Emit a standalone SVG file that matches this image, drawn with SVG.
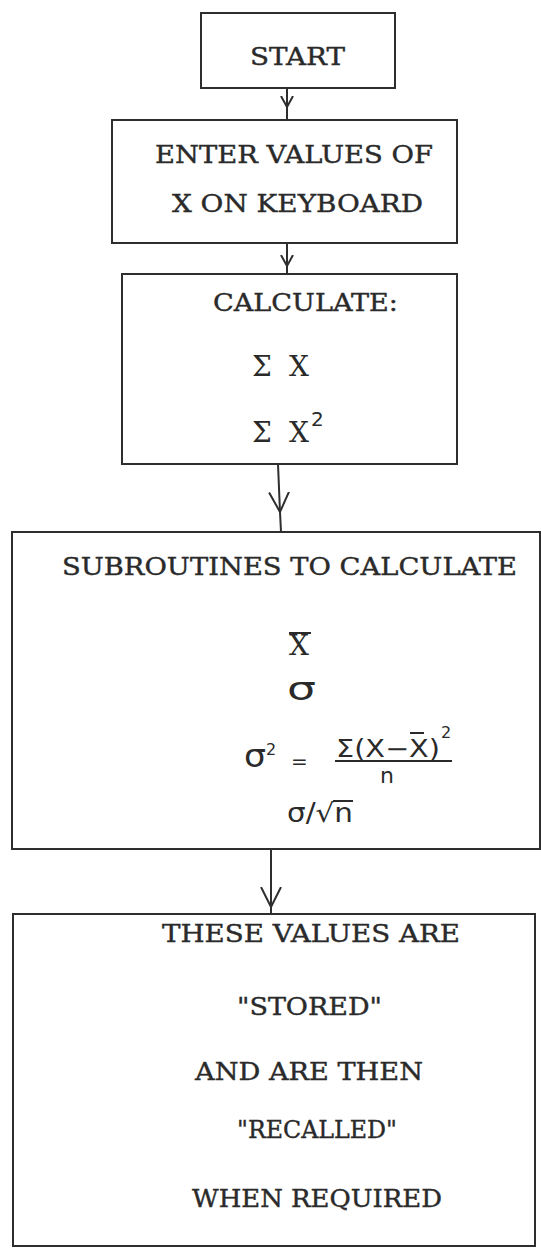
<svg xmlns="http://www.w3.org/2000/svg" width="541" height="1251" viewBox="0 0 541 1251">
<style>
.box{fill:none;stroke:#2e2e2e;stroke-width:2}
.conn{fill:none;stroke:#2e2e2e;stroke-width:2}
.t{font-family:"DejaVu Serif","Liberation Serif",serif;font-size:25px;fill:#2a2a2a;stroke:#2a2a2a;stroke-width:0.4}
.m{font-family:"DejaVu Serif","Liberation Serif",serif;font-size:28px;fill:#2a2a2a}
.h{font-family:"DejaVu Sans","Liberation Sans",sans-serif;fill:#2a2a2a}
.bar{stroke:#2a2a2a;stroke-width:2;fill:none}
</style>
<defs>
<marker id="vs" viewBox="0 0 12 14" refX="11" refY="7" markerWidth="12" markerHeight="14" markerUnits="userSpaceOnUse" orient="auto">
<path d="M0,1 L11,7 L0,13" fill="none" stroke="#2e2e2e" stroke-width="2"/>
</marker>
<marker id="vl" viewBox="0 0 22 22" refX="20" refY="11" markerWidth="22" markerHeight="22" markerUnits="userSpaceOnUse" orient="auto">
<path d="M0,1 L20,11 L0,21" fill="none" stroke="#2e2e2e" stroke-width="2"/>
</marker>
</defs>
<rect width="541" height="1251" fill="#ffffff"/>
<g id="connectors">
<path class="conn" d="M287,88 L287,107 L287,120" marker-mid="url(#vs)"/>
<path class="conn" d="M287,243 L287,266 L287,274" marker-mid="url(#vs)"/>
<path class="conn" d="M278,464 L280,512 L281,532" marker-mid="url(#vl)"/>
<path class="conn" d="M271,849 L271,907 L271,914" marker-mid="url(#vl)"/>
</g>
<g id="start">
<rect class="box" x="201" y="13" width="194" height="75"/>
<text class="t" x="250" y="65" textLength="95" lengthAdjust="spacingAndGlyphs">START</text>
</g>
<g id="enter">
<rect class="box" x="112" y="120" width="345" height="123"/>
<text class="t" x="155" y="163" textLength="278" lengthAdjust="spacingAndGlyphs">ENTER VALUES OF</text>
<text class="t" x="172" y="212" textLength="251" lengthAdjust="spacingAndGlyphs">X ON KEYBOARD</text>
</g>
<g id="calculate">
<rect class="box" x="122" y="274" width="335" height="190"/>
<text class="t" x="213" y="311" textLength="185" lengthAdjust="spacingAndGlyphs">CALCULATE:</text>
<text class="m" x="252" y="376">Σ</text>
<text class="m" x="289" y="376">X</text>
<text class="m" x="252" y="442">Σ</text>
<text class="m" x="289" y="442">X</text>
<text class="h" x="311" y="426" font-size="20">2</text>
</g>
<g id="subroutines">
<rect class="box" x="12" y="532" width="528" height="317"/>
<text class="t" x="62" y="575" textLength="455" lengthAdjust="spacingAndGlyphs">SUBROUTINES TO CALCULATE</text>
<text class="m" x="289" y="655">X</text>
<line class="bar" x1="289" y1="633" x2="311" y2="633"/>
<text class="h" x="287" y="700" font-size="32" textLength="29" lengthAdjust="spacingAndGlyphs">σ</text>
<text class="h" x="244" y="767" font-size="32" textLength="22" lengthAdjust="spacingAndGlyphs">σ</text>
<text class="h" x="266" y="755" font-size="16">2</text>
<text class="h" x="291" y="768" font-size="20">=</text>
<text class="h" x="336" y="757" font-size="24" textLength="104" lengthAdjust="spacingAndGlyphs">Σ(X−X)</text>
<line class="bar" x1="410" y1="733" x2="424" y2="733"/>
<text class="h" x="441" y="738" font-size="16">2</text>
<line class="bar" x1="335" y1="761" x2="452" y2="761"/>
<text class="h" x="380" y="783" font-size="22">n</text>
<text class="h" x="287" y="822" font-size="26" textLength="66" lengthAdjust="spacingAndGlyphs">σ/√n</text>
<line class="bar" x1="333" y1="801" x2="353" y2="801"/>
</g>
<g id="stored">
<rect class="box" x="13" y="914" width="522" height="332"/>
<text class="t" x="162" y="942" textLength="298" lengthAdjust="spacingAndGlyphs">THESE VALUES ARE</text>
<text class="t" x="237" y="1015" textLength="145" lengthAdjust="spacingAndGlyphs">"STORED"</text>
<text class="t" x="195" y="1080" textLength="228" lengthAdjust="spacingAndGlyphs">AND ARE THEN</text>
<text class="t" x="237" y="1138" textLength="160" lengthAdjust="spacingAndGlyphs">"RECALLED"</text>
<text class="t" x="192" y="1207" textLength="250" lengthAdjust="spacingAndGlyphs">WHEN REQUIRED</text>
</g>
</svg>
